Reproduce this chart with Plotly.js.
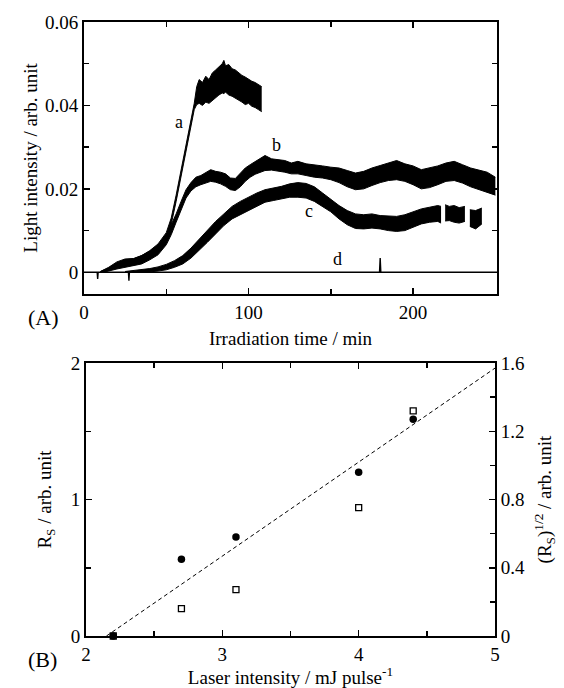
<!DOCTYPE html>
<html>
<head>
<meta charset="utf-8">
<script src="https://cdn.plot.ly/plotly-3.0.1.min.js"></script>
<style>html,body{margin:0;padding:0;background:#fff;}#chart{width:564px;height:688px;}</style>
</head>
<body>
<div id="chart"></div>
<script>
// ---------- Panel A: light intensity vs irradiation time ----------
const aTime  = [10,15,20,25,30,35,40,45,50,53,56,59,62,65,67,68.5,70,72,74,76,78,80,82,84,85,86,88,90,92,94,96,98,100,102,104,106,108];
const aUpper = [0.0002,0.0012,0.0025,0.0032,0.0033,0.0040,0.0052,0.0068,0.0095,0.0130,0.0185,0.0245,0.0305,0.0365,0.0405,0.0445,0.0462,0.0455,0.0470,0.0462,0.0478,0.0485,0.0492,0.0500,0.0508,0.0495,0.0498,0.0488,0.0485,0.0478,0.0472,0.0468,0.0462,0.0458,0.0455,0.0450,0.0445];
const aLower = [0,0.0004,0.0012,0.0016,0.0018,0.0024,0.0034,0.0048,0.0078,0.0115,0.0170,0.0230,0.0292,0.0352,0.0390,0.0402,0.0405,0.0400,0.0408,0.0405,0.0412,0.0420,0.0425,0.0430,0.0428,0.0432,0.0425,0.0422,0.0418,0.0412,0.0408,0.0402,0.0405,0.0398,0.0395,0.0390,0.0385];

const bTime  = [10,15,20,25,30,35,40,45,50,53,56,59,62,65,68,71,74,77,80,83,86,89,92,95,98,101,104,107,110,114,118,122,126,130,135,140,145,150,155,160,165,170,175,180,185,190,195,200,205,210,215,220,225,230,235,240,245,250];
const bUpper = [0.0002,0.0010,0.0022,0.0030,0.0032,0.0040,0.0050,0.0064,0.0088,0.0112,0.0140,0.0170,0.0198,0.0215,0.0228,0.0232,0.0240,0.0246,0.0242,0.0240,0.0236,0.0226,0.0225,0.0238,0.0250,0.0258,0.0265,0.0272,0.0280,0.0272,0.0270,0.0268,0.0262,0.0266,0.0260,0.0258,0.0255,0.0252,0.0250,0.0244,0.0238,0.0242,0.0250,0.0256,0.0262,0.0268,0.0260,0.0255,0.0246,0.0250,0.0255,0.0262,0.0266,0.0258,0.0250,0.0245,0.0240,0.0228];
const bLower = [0,0.0003,0.0008,0.0012,0.0015,0.0020,0.0030,0.0042,0.0066,0.0090,0.0120,0.0150,0.0178,0.0195,0.0205,0.0210,0.0214,0.0218,0.0216,0.0212,0.0206,0.0198,0.0196,0.0205,0.0218,0.0228,0.0235,0.0240,0.0244,0.0245,0.0243,0.0240,0.0236,0.0236,0.0232,0.0228,0.0226,0.0222,0.0215,0.0205,0.0198,0.0200,0.0208,0.0215,0.0220,0.0222,0.0218,0.0210,0.0200,0.0203,0.0210,0.0218,0.0220,0.0214,0.0205,0.0198,0.0192,0.0185];

// null marks a gap in the recorded trace
const cTime  = [25,30,35,40,45,50,55,60,65,70,75,80,85,90,95,100,105,110,115,120,125,130,135,140,145,150,155,160,165,170,175,180,185,190,195,200,205,210,215,217,null,219.5,222,225,228,231.5,null,234.5,238,241.8];
const cUpper = [0.0002,0.0004,0.0006,0.0009,0.0013,0.0019,0.0028,0.0040,0.0058,0.0080,0.0102,0.0122,0.0140,0.0158,0.0170,0.0180,0.0190,0.0198,0.0202,0.0206,0.0212,0.0215,0.0213,0.0205,0.0190,0.0175,0.0160,0.0148,0.0140,0.0138,0.0140,0.0136,0.0135,0.0134,0.0138,0.0145,0.0152,0.0156,0.0160,0.0158,null,0.0162,0.0158,0.0160,0.0155,0.0158,null,0.0150,0.0148,0.0154];
const cLower = [0,0,0,0.0001,0.0003,0.0006,0.0012,0.0020,0.0034,0.0052,0.0072,0.0092,0.0112,0.0128,0.0138,0.0150,0.0160,0.0168,0.0172,0.0176,0.0180,0.0180,0.0178,0.0170,0.0158,0.0145,0.0128,0.0114,0.0105,0.0104,0.0106,0.0104,0.0100,0.0098,0.0100,0.0108,0.0116,0.0120,0.0122,0.0118,null,0.0123,0.0124,0.0120,0.0118,0.0122,null,0.0110,0.0104,0.0116];

const dTime  = [0,8,8.3,8.6,27,27.3,27.6,179.6,180,180.4,251];
const dValue = [0,0,-0.0016,0,0,-0.0020,0,0,0.0034,0,0];

const curveLabels = ['a','b','c','d'];
const labelTime   = [58,117,136.5,154];
const labelValue  = [0.036,0.0304,0.0147,0.0031];

// ---------- Panel B: Rs and Rs^1/2 vs laser intensity ----------
const laserI      = [2.2,2.7,3.1,4.0,4.4];
const rsValue     = [0,0.20,0.34,0.94,1.65];      // open squares, left axis
const rsSqrtValue = [0,0.45,0.58,0.96,1.27];      // filled circles, right axis
const fitX = [2.15,5.0];
const fitY = [0,1.57];

// ---------- build traces ----------
function band(t, up, lo, xa, ya) {
  const out = [];
  let seg = {t:[],u:[],l:[]};
  const flush = () => {
    if (seg.t.length) {
      out.push({x:seg.t, y:seg.u, xaxis:xa, yaxis:ya, mode:'lines', line:{color:'black', width:1}, hoverinfo:'skip'});
      out.push({x:seg.t, y:seg.l, xaxis:xa, yaxis:ya, mode:'lines', line:{color:'black', width:1}, fill:'tonexty', fillcolor:'black', hoverinfo:'skip'});
    }
    seg = {t:[],u:[],l:[]};
  };
  for (let i = 0; i < t.length; i++) {
    if (t[i] === null) { flush(); continue; }
    seg.t.push(t[i]); seg.u.push(up[i]); seg.l.push(lo[i]);
  }
  flush();
  return out;
}

const traces = [];
traces.push({x:dTime, y:dValue, xaxis:'x', yaxis:'y', mode:'lines', line:{color:'black', width:1.4}});
traces.push(...band(cTime, cUpper, cLower, 'x', 'y'));
traces.push(...band(bTime, bUpper, bLower, 'x', 'y'));
traces.push(...band(aTime, aUpper, aLower, 'x', 'y'));

traces.push({x:fitX, y:fitY, xaxis:'x2', yaxis:'y3', mode:'lines', line:{color:'black', width:1, dash:'4px,3px'}});
traces.push({x:laserI, y:rsValue, xaxis:'x2', yaxis:'y2', mode:'markers', marker:{symbol:'square-open', size:6, color:'black', line:{width:1.3}}, cliponaxis:false});
traces.push({x:laserI, y:rsSqrtValue, xaxis:'x2', yaxis:'y3', mode:'markers', marker:{symbol:'circle', size:7.5, color:'black'}, cliponaxis:false});

const FONT = 'Liberation Serif';
const axBase = {showline:true, linewidth:2, linecolor:'black', ticks:'inside', ticklen:6, tickwidth:1.5, tickcolor:'black', showgrid:false, zeroline:false, tickfont:{family:FONT, size:19, color:'black'}};

const annotations = curveLabels.map((s,i) => ({x:labelTime[i], y:labelValue[i], xref:'x', yref:'y', text:s, showarrow:false, font:{family:FONT, size:18, color:'black'}}));
annotations.push({x:26/564, y:1-317/688, xref:'paper', yref:'paper', text:'(A)', showarrow:false, font:{family:FONT, size:22, color:'black'}});
annotations.push({x:26/564, y:1-674/688, xref:'paper', yref:'paper', text:'(B)', showarrow:false, font:{family:FONT, size:22, color:'black'}});

const layout = {
  width:564, height:688, margin:{l:0, r:0, t:0, b:0}, showlegend:false,
  paper_bgcolor:'white', plot_bgcolor:'white',
  font:{family:FONT, size:19, color:'black'},
  xaxis: Object.assign({}, axBase, {domain:[84/564, 497/564], range:[0,251], anchor:'y', tickvals:[0,100,200], mirror:'ticks',
    minor:{tickvals:[50,150], ticks:'inside', ticklen:5, tickwidth:1.5, tickcolor:'black'},
    title:{text:'Irradiation time / min', font:{family:FONT, size:19}, standoff:10}}),
  yaxis: Object.assign({}, axBase, {domain:[1-294/688, 1-22/688], range:[-0.0052,0.06], anchor:'x', tickvals:[0,0.02,0.04,0.06], ticktext:['0','0.02','0.04','0.06'], mirror:'ticks',
    minor:{tickvals:[0.01,0.03,0.05], ticks:'inside', ticklen:5, tickwidth:1.5, tickcolor:'black'},
    title:{text:'Light intensity / arb. unit', font:{family:FONT, size:19}, standoff:2}}),
  xaxis2: Object.assign({}, axBase, {domain:[86/564, 495/564], range:[2,5], anchor:'y2', tickvals:[2,3,4,5], mirror:'ticks',
    minor:{tickvals:[2.5,3.5,4.5], ticks:'inside', ticklen:5, tickwidth:1.5, tickcolor:'black'},
    title:{text:'Laser intensity / mJ pulse<sup>-1</sup>', font:{family:FONT, size:19}, standoff:10}}),
  yaxis2: Object.assign({}, axBase, {domain:[1-636/688, 1-363/688], range:[0,2], anchor:'x2', tickvals:[0,1,2], mirror:false,
    minor:{tickvals:[0.5,1.5], ticks:'inside', ticklen:5, tickwidth:1.5, tickcolor:'black'},
    title:{text:'R<sub>S</sub> / arb. unit', font:{family:FONT, size:19}, standoff:14}}),
  yaxis3: Object.assign({}, axBase, {overlaying:'y2', side:'right', anchor:'x2', range:[0,1.6], tickvals:[0,0.4,0.8,1.2,1.6], ticktext:['0','0.4','0.8','1.2','1.6'],
    minor:{tickvals:[0.2,0.6,1.0,1.4], ticks:'inside', ticklen:5, tickwidth:1.5, tickcolor:'black'},
    title:{text:'(R<sub>S</sub>)<sup>1/2</sup> / arb. unit', font:{family:FONT, size:19}, standoff:14}}),
  annotations: annotations
};

Plotly.newPlot('chart', traces, layout, {staticPlot:true, displayModeBar:false});
</script>
</body>
</html>
